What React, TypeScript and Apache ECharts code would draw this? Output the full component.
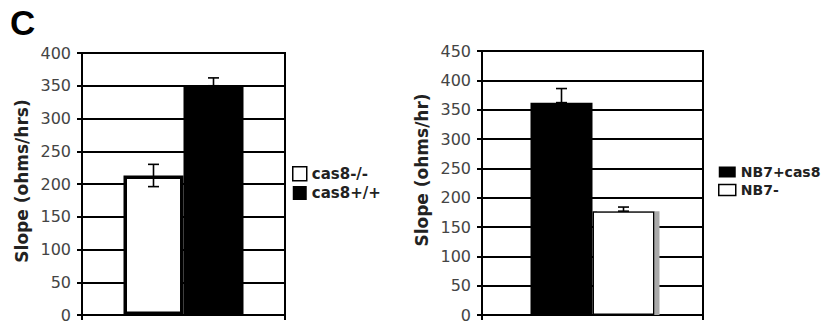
import React, { useEffect, useRef } from "react";
import * as echarts from "echarts";

// ---- data ----
const CATEGORIES = [""];
const LEFT_TICKS_MAX = 400;
const RIGHT_TICKS_MAX = 450;
const TICK_STEP = 50;

const LEFT_NAMES = ["cas8-/-", "cas8+/+"];
const leftKO = [213];
const leftWT = [350];
// [low, high] of error bars per series
const leftKOErr = [196, 230];
const leftWTErr = [350, 362];

const RIGHT_NAMES = ["NB7+cas8", "NB7-"];
const rightCas8 = [362];
const rightNB7 = [177];
const rightCas8Err = [362, 386];
const rightNB7Err = [177, 184];

const LEFT_YLABEL = "Slope (ohms/hrs)";
const RIGHT_YLABEL = "Slope (ohms/hr)";
const PANEL_LABEL = "C";

const BAR_W_LEFT = 60;
const BAR_W_RIGHT = 62;

const FONT = "DejaVu Sans";

function errorSeries(name: string, gridIdx: number, barW: number, rows: number[][]) {
  return {
    type: "custom",
    name,
    xAxisIndex: gridIdx,
    yAxisIndex: gridIdx,
    z: 5,
    data: rows,
    encode: { x: 0, y: [2, 3] },
    renderItem: (params: any, api: any) => {
      const cat = api.value(0);
      const slot = api.value(1);
      const lo = api.value(2);
      const hi = api.value(3);
      const p0 = api.coord([cat, lo]);
      const p1 = api.coord([cat, hi]);
      const x = p0[0] + (slot === 0 ? -barW / 2 : barW / 2);
      const cap = 5.5;
      const style = { stroke: "#000", lineWidth: 1.6 };
      const children: any[] = [
        { type: "line", shape: { x1: x, y1: p0[1], x2: x, y2: p1[1] }, style },
        { type: "line", shape: { x1: x - cap, y1: p1[1], x2: x + cap, y2: p1[1] }, style },
      ];
      if (lo !== hi) {
        children.push({ type: "line", shape: { x1: x - cap, y1: p0[1], x2: x + cap, y2: p0[1] }, style });
      }
      return { type: "group", children };
    },
  };
}

function yAxis(gridIndex: number, max: number, name: string, nameGap: number, shiftUp: number) {
  return {
    type: "value",
    gridIndex,
    min: 0,
    max,
    interval: TICK_STEP,
    name,
    nameLocation: "middle",
    nameRotate: 90,
    nameGap,
    nameTextStyle: {
      fontFamily: FONT,
      fontWeight: "bold",
      fontSize: 17,
      color: "#222",
      padding: [0, 0, 0, shiftUp * 2],
    },
    axisLine: { show: true, lineStyle: { color: "#000", width: 2 } },
    axisTick: { show: true, length: 5, lineStyle: { color: "#000", width: 2 } },
    axisLabel: { fontFamily: FONT, fontSize: 16, color: "#444", margin: 11 },
    splitLine: { show: true, lineStyle: { color: "#000", width: 2 } },
  };
}

function xAxis(gridIndex: number) {
  return {
    type: "category",
    gridIndex,
    data: CATEGORIES,
    axisLine: { show: true, lineStyle: { color: "#000", width: 2 } },
    axisTick: { show: true, length: 5, lineStyle: { color: "#000", width: 2 } },
    axisLabel: { show: false },
  };
}

export default function App() {
  const ref = useRef<HTMLDivElement>(null);
  useEffect(() => {
    if (!ref.current) return;
    const chart = echarts.init(ref.current, undefined, { renderer: "svg" });
    const whiteLegend = { color: "#fff", borderColor: "#000", borderWidth: 1.5 };
    chart.setOption({
      animation: false,
      backgroundColor: "#fff",
      grid: [
        { left: 82, top: 53, width: 203, height: 262, show: true, borderColor: "#000", borderWidth: 2, backgroundColor: "transparent" },
        { left: 482, top: 51, width: 221, height: 264, show: true, borderColor: "#000", borderWidth: 2, backgroundColor: "transparent" },
      ],
      xAxis: [xAxis(0), xAxis(1)],
      yAxis: [
        yAxis(0, LEFT_TICKS_MAX, LEFT_YLABEL, 52, 3),
        yAxis(1, RIGHT_TICKS_MAX, RIGHT_YLABEL, 52, 13),
      ],
      legend: [
        {
          left: 292,
          top: 166,
          padding: 0,
          orient: "vertical",
          itemWidth: 14,
          itemHeight: 14,
          itemGap: 4,
          icon: "rect",
          textStyle: { fontFamily: FONT, fontWeight: "bold", fontSize: 15, color: "#222" },
          data: [
            { name: LEFT_NAMES[0], itemStyle: whiteLegend },
            { name: LEFT_NAMES[1] },
          ],
        },
        {
          left: 718,
          top: 165,
          padding: 0,
          orient: "vertical",
          itemWidth: 17,
          itemHeight: 11,
          itemGap: 4,
          icon: "rect",
          textStyle: { fontFamily: FONT, fontWeight: "bold", fontSize: 14, color: "#222" },
          data: [
            { name: RIGHT_NAMES[0] },
            { name: RIGHT_NAMES[1], itemStyle: whiteLegend },
          ],
        },
      ],
      graphic: [
        {
          type: "text",
          left: 10,
          top: 5,
          style: { text: PANEL_LABEL, fontFamily: "Liberation Sans", fontWeight: "bold", fontSize: 35, fill: "#000" },
        },
      ],
      series: [
        {
          type: "bar",
          name: LEFT_NAMES[0],
          xAxisIndex: 0,
          yAxisIndex: 0,
          data: leftKO,
          barWidth: BAR_W_LEFT,
          barGap: "0%",
          itemStyle: { color: "#fff", borderColor: "#000", borderWidth: 3.5 },
        },
        {
          type: "bar",
          name: LEFT_NAMES[1],
          xAxisIndex: 0,
          yAxisIndex: 0,
          data: leftWT,
          barWidth: BAR_W_LEFT,
          barGap: "0%",
          itemStyle: { color: "#000" },
        },
        {
          type: "bar",
          name: RIGHT_NAMES[0],
          xAxisIndex: 1,
          yAxisIndex: 1,
          data: rightCas8,
          barWidth: BAR_W_RIGHT,
          barGap: "0%",
          itemStyle: { color: "#000" },
        },
        {
          type: "bar",
          name: RIGHT_NAMES[1],
          xAxisIndex: 1,
          yAxisIndex: 1,
          data: rightNB7,
          barWidth: BAR_W_RIGHT,
          barGap: "0%",
          itemStyle: {
            color: "#fff",
            borderColor: "#000",
            borderWidth: 1.5,
            shadowColor: "#aaa",
            shadowOffsetX: 5,
            shadowOffsetY: 0,
            shadowBlur: 0,
          },
        },
        errorSeries("err-left", 0, BAR_W_LEFT, [
          [0, 0, leftKOErr[0], leftKOErr[1]],
          [0, 1, leftWTErr[0], leftWTErr[1]],
        ]),
        errorSeries("err-right", 1, BAR_W_RIGHT, [
          [0, 0, rightCas8Err[0], rightCas8Err[1]],
          [0, 1, rightNB7Err[0], rightNB7Err[1]],
        ]),
      ],
    });
    return () => chart.dispose();
  }, []);
  return (
    <div
      ref={ref}
      style={{ position: "fixed", left: 0, top: 0, width: 822, height: 328, background: "#fff" }}
    />
  );
}
